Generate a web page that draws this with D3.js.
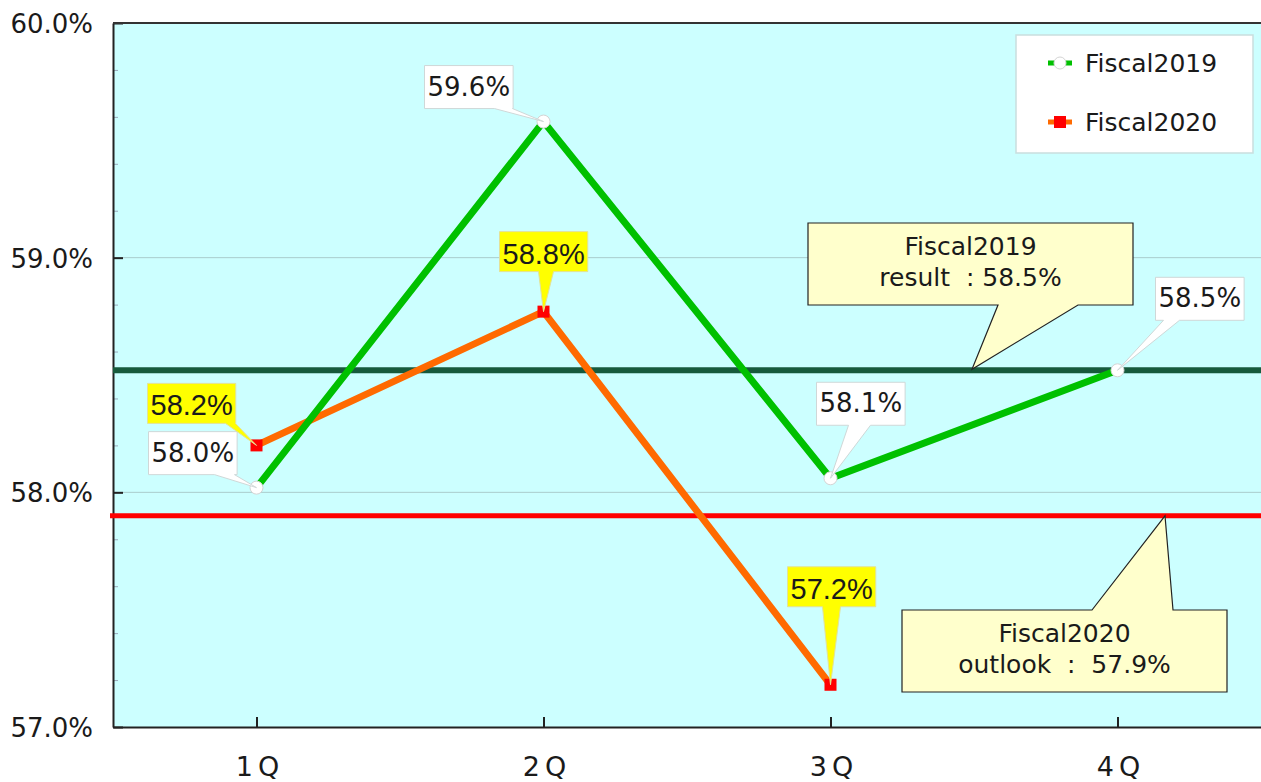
<!DOCTYPE html>
<html>
<head>
<meta charset="utf-8">
<script src="https://cdn.jsdelivr.net/npm/d3@7"></script>
<style>
  body { margin: 0; background: #fff; }
  svg { display: block; }
  text { font-family: "DejaVu Sans", Verdana, sans-serif; fill: #1a1a1a; }
</style>
</head>
<body>
<svg id="chart" width="1261" height="782"></svg>
<script>
const quarters = ['1Q', '2Q', '3Q', '4Q'];
const fiscal2019 = [58.02, 59.58, 58.06, 58.52];
const fiscal2020 = [58.20, 58.77, 57.18, null];
const labels2019 = ['58.0%', '59.6%', '58.1%', '58.5%'];
const labels2020 = ['58.2%', '58.8%', '57.2%', null];
const yTicks = [57, 58, 59, 60];
const seriesNames = ['Fiscal2019', 'Fiscal2020'];
const result2019 = 58.52;
const outlook2020 = 57.9;
const resultText = ['Fiscal2019', 'result  : 58.5%'];
const outlookText = ['Fiscal2020', 'outlook  :  57.9%'];

// label box offsets from the point: [dx, dy, pointer base left, pointer base right] (base relative to box left)
const layout2019 = [[-108, -56, 66, 86], [-119, -56, 70, 88], [-14, -96, 32, 54], [38, -93, 8, 24]];
const layout2020 = [[-109, -62, 78, 88], [-44, -80, 39, 54], [-43, -118, 35, 53]];

const width = 1261, height = 782;
const margin = { left: 113, top: 23, right: 0, bottom: 55 };

const svg = d3.select('#chart');

const x = d3.scalePoint()
    .domain(quarters)
    .range([margin.left, width - margin.right])
    .padding(0.5);

const y = d3.scaleLinear()
    .domain([57, 60])
    .range([height - margin.bottom, margin.top]);

const fmt = d => d3.format('.1f')(d) + '%';

// plot background
svg.append('rect')
    .attr('x', margin.left).attr('y', margin.top)
    .attr('width', width - margin.left - margin.right)
    .attr('height', y(57) - margin.top)
    .attr('fill', '#ccffff');

// grid lines
svg.append('g').selectAll('line')
    .data([58, 59])
    .join('line')
    .attr('x1', margin.left).attr('x2', width)
    .attr('y1', d => y(d)).attr('y2', d => y(d))
    .attr('stroke', '#a9cccc').attr('stroke-width', 1);

// minor ticks
const minor = d3.range(57, 60.001, 0.2).filter(v => Math.abs(v - Math.round(v)) > 0.01);
svg.append('g')
    .attr('transform', `translate(${margin.left},0)`)
    .call(d3.axisLeft(y).tickValues(minor).tickSize(-5).tickFormat(''))
    .call(g => g.select('.domain').remove())
    .call(g => g.selectAll('line').attr('stroke', '#9ab'));

// y axis
svg.append('g')
    .attr('transform', `translate(${margin.left},0)`)
    .call(d3.axisLeft(y).tickValues(yTicks).tickSizeInner(-10).tickSizeOuter(0).tickPadding(20).tickFormat(fmt))
    .call(g => g.selectAll('text').style('font-size', '26px').attr('fill', '#1a1a1a').attr('dy', '0.36em'))
    .call(g => g.selectAll('line, .domain').attr('stroke', '#222').attr('stroke-width', 2));

// x axis
svg.append('g')
    .attr('transform', `translate(0,${y(57)})`)
    .call(d3.axisBottom(x).tickSizeInner(-10).tickSizeOuter(0).tickPadding(30))
    .call(g => g.selectAll('text').style('font-size', '27px').style('letter-spacing', '5px').attr('dx', '3px').attr('fill', '#1a1a1a'))
    .call(g => g.selectAll('line, .domain').attr('stroke', '#222').attr('stroke-width', 2));

// top frame
svg.append('line')
    .attr('x1', margin.left).attr('x2', width)
    .attr('y1', y(60)).attr('y2', y(60))
    .attr('stroke', '#333').attr('stroke-width', 2);

// reference lines
svg.append('line')
    .attr('x1', margin.left).attr('x2', width)
    .attr('y1', y(result2019)).attr('y2', y(result2019))
    .attr('stroke', '#175a3c').attr('stroke-width', 6);
svg.append('line')
    .attr('x1', margin.left - 3).attr('x2', width)
    .attr('y1', y(outlook2020)).attr('y2', y(outlook2020))
    .attr('stroke', '#ff0000').attr('stroke-width', 5);

// series lines
const line = d3.line()
    .defined(d => d.v !== null)
    .x(d => x(d.q))
    .y(d => y(d.v));

const pts2019 = quarters.map((q, i) => ({ q, v: fiscal2019[i], label: labels2019[i], lay: layout2019[i] }));
const pts2020 = quarters.map((q, i) => ({ q, v: fiscal2020[i], label: labels2020[i], lay: layout2020[i] }))
    .filter(d => d.v !== null);

svg.append('path').datum(pts2020)
    .attr('d', line).attr('fill', 'none')
    .attr('stroke', '#ff6a00').attr('stroke-width', 7);
svg.append('path').datum(pts2019)
    .attr('d', line).attr('fill', 'none')
    .attr('stroke', '#00c000').attr('stroke-width', 7);

// markers
svg.append('g').selectAll('circle')
    .data(pts2019)
    .join('circle')
    .attr('cx', d => x(d.q)).attr('cy', d => y(d.v)).attr('r', 6.5)
    .attr('fill', '#fff').attr('stroke', '#d4d4d4').attr('stroke-width', 1);
svg.append('g').selectAll('rect')
    .data(pts2020)
    .join('rect')
    .attr('x', d => x(d.q) - 6).attr('y', d => y(d.v) - 6)
    .attr('width', 12).attr('height', 12)
    .attr('fill', '#ff0000');

// box with a wedge pointer on the bottom or top side
function calloutPath(bx, by, w, h, side, b1, b2, tx, ty) {
    if (side === 'bottom') {
        return `M${bx},${by}H${bx + w}V${by + h}H${b2}L${tx},${ty}L${b1},${by + h}H${bx}Z`;
    }
    return `M${bx},${by}H${b1}L${tx},${ty}L${b2},${by}H${bx + w}V${by + h}H${bx}Z`;
}

function dataLabels(points, opts) {
    const g = svg.append('g');
    points.forEach(d => {
        const px = x(d.q), py = y(d.v);
        const bx = px + d.lay[0], by = py + d.lay[1];
        const node = g.append('path');
        const t = g.append('text')
            .attr('y', by + opts.base)
            .style('font-family', opts.font)
            .style('font-size', opts.size + 'px')
            .attr('text-anchor', 'middle')
            .text(d.label);
        const w = t.node().getComputedTextLength() + 6;
        t.attr('x', bx + w / 2);
        node.attr('d', calloutPath(bx, by, w, opts.h, 'bottom', bx + d.lay[2], bx + d.lay[3], px, py))
            .attr('fill', opts.fill).attr('stroke', opts.stroke).attr('stroke-width', 1);
    });
}

dataLabels(pts2019, { font: '"DejaVu Sans", Verdana, sans-serif', size: 26, h: 43, base: 30, fill: '#ffffff', stroke: '#cfd8d8' });
dataLabels(pts2020, { font: '"Liberation Sans", Arial, sans-serif', size: 29, h: 40, base: 32, fill: '#ffff00', stroke: '#e2e29a' });

// reference callouts
function refCallout(bx, by, side, b1, b2, tx, ty, lines) {
    const w = 325, h = 82;
    svg.append('path')
        .attr('d', calloutPath(bx, by, w, h, side, b1, b2, tx, ty))
        .attr('fill', '#ffffcc').attr('stroke', '#222').attr('stroke-width', 1.2);
    svg.append('g').selectAll('text')
        .data(lines)
        .join('text')
        .attr('x', bx + w / 2)
        .attr('y', (d, i) => by + 32 + i * 31)
        .attr('text-anchor', 'middle')
        .style('font-size', '25px')
        .style('white-space', 'pre')
        .text(d => d);
}

refCallout(808, 223, 'bottom', 998, 1078, 972, y(result2019) - 1, resultText);
refCallout(902, 610, 'top', 1092, 1173, 1165, y(outlook2020), outlookText);

// legend
const legend = svg.append('g');
legend.append('rect')
    .attr('x', 1016).attr('y', 35).attr('width', 237).attr('height', 118)
    .attr('fill', '#fff').attr('stroke', '#c9dede').attr('stroke-width', 1.5);
const items = legend.selectAll('g.item')
    .data(seriesNames)
    .join('g')
    .attr('class', 'item')
    .attr('transform', (d, i) => `translate(1048,${63 + i * 59})`);
items.append('line')
    .attr('x1', 0).attr('x2', 24)
    .attr('stroke', (d, i) => i === 0 ? '#00c000' : '#ff6a00')
    .attr('stroke-width', 5)
    .attr('stroke-dasharray', (d, i) => i === 0 ? '7,10,7' : null);
items.filter((d, i) => i === 0).append('circle')
    .attr('cx', 12).attr('r', 6)
    .attr('fill', '#fff').attr('stroke', '#d4d4d4');
items.filter((d, i) => i === 1).append('rect')
    .attr('x', 6).attr('y', -6).attr('width', 12).attr('height', 12)
    .attr('fill', '#ff0000');
items.append('text')
    .attr('x', 37).attr('dy', '0.36em')
    .style('font-size', '25px')
    .text(d => d);
</script>
</body>
</html>
